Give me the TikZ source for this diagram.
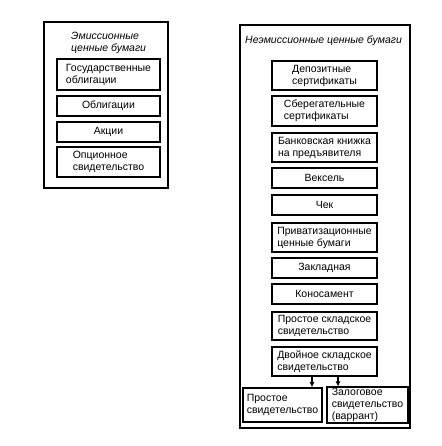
\documentclass[tikz,border=0pt]{standalone}
\usepackage{fontspec}
\setmainfont{Liberation Sans}
\usetikzlibrary{arrows.meta}
\begin{document}
\begin{tikzpicture}[x=1pt,y=1pt,
  box/.style={draw, line width=1.5pt, inner sep=1pt, align=left, font=\fontsize{10.5}{12}\selectfont},
  lbox/.style={box, minimum width=103pt},
  rbox/.style={box, minimum width=105pt},
  outer/.style={draw, line width=1.5pt},
  ttl/.style={anchor=north west, align=left, inner sep=0pt, font=\fontsize{10.5}{12}\selectfont\itshape},
  arr/.style={line width=1.5pt, -{Latex[length=5pt,width=5pt]}}]
\fill[white] (0,0) rectangle (441,446);
\useasboundingbox (0,0) rectangle (441,446);
% left group
\draw[outer] (44,424) rectangle (168,258);
\node[ttl] (lt) at (71,414) {Эмиссионные\\ценные бумаги};
\node[lbox, minimum height=31pt] (gos) at (108.5,371.5) {Государственные\\облигации};
\node[lbox, minimum height=20pt] (obl) at (108.5,340) {Облигации};
\node[lbox, minimum height=20pt] (akc) at (108.5,314) {Акции};
\node[lbox, minimum height=30pt] (opc) at (108.5,284) {Опционное\\свидетельство};
% right group
\draw[outer] (240,421) rectangle (410,18);
\node[ttl] (rt) at (245,410) {Неэмиссионные ценные бумаги};
\node[rbox, minimum height=29pt] (dep) at (324.5,370.5) {Депозитные\\сертификаты};
\node[rbox, minimum height=30pt] (sber) at (324.5,335) {Сберегательные\\сертификаты};
\node[rbox, minimum height=29pt] (bank) at (324.5,298.5) {Банковская книжка\\на предъявителя};
\node[rbox, minimum height=20pt] (veks) at (324.5,268) {Вексель};
\node[rbox, minimum height=20pt] (chek) at (324.5,241) {Чек};
\node[rbox, minimum height=29pt] (priv) at (324.5,208.5) {Приватизационные\\ценные бумаги};
\node[rbox, minimum height=20pt] (zakl) at (324.5,178) {Закладная};
\node[rbox, minimum height=20pt] (kono) at (324.5,152) {Коносамент};
\node[rbox, minimum height=28pt] (prost) at (324.5,120) {Простое складское\\свидетельство};
\node[rbox, minimum height=29pt] (dvoin) at (324.5,84.5) {Двойное складское\\свидетельство};
\node[box, minimum width=79pt, minimum height=34pt] (prsv) at (282.5,41) {Простое\\свидетельство};
\node[box, minimum width=81pt, minimum height=34pt] (zal) at (367.5,41) {Залоговое\\свидетельство\\(варрант)};
\coordinate (a1) at (312,0);
\coordinate (a2) at (338,0);
\draw[arr] (dvoin.south -| a1) -- (prsv.north -| a1);
\draw[arr] (dvoin.south -| a2) -- (zal.north -| a2);
\end{tikzpicture}
\end{document}
